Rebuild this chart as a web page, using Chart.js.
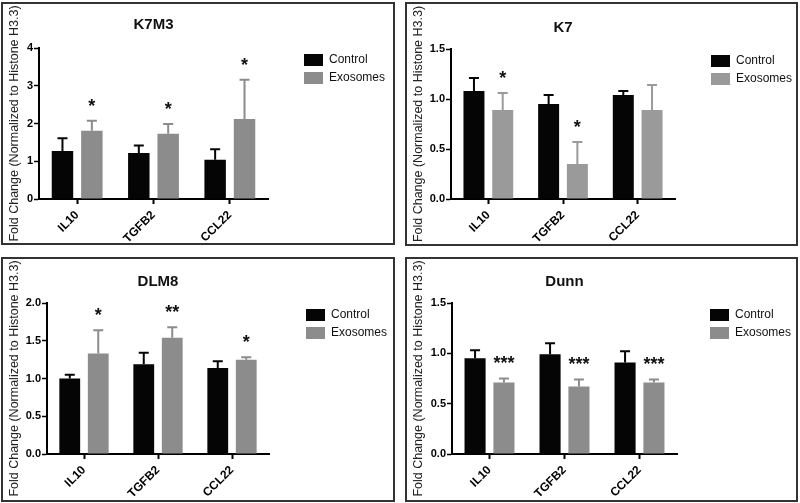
<!DOCTYPE html>
<html>
<head>
<meta charset="utf-8">
<script src="https://cdn.jsdelivr.net/npm/chart.js@4"></script>
<style>
  body { margin: 0; background: #fff; width: 800px; height: 503px; position: relative; overflow: hidden; }
  .panel { position: absolute; box-sizing: border-box; border: 2px solid #333; background: #fff; }
  .panel canvas { position: absolute; left: 0; top: 0; }
</style>
</head>
<body>
<div class="panel" id="p1"><canvas id="k7m3_chart"></canvas></div>
<div class="panel" id="p2"><canvas id="k7_chart"></canvas></div>
<div class="panel" id="p3"><canvas id="dlm8_chart"></canvas></div>
<div class="panel" id="p4"><canvas id="dunn_chart"></canvas></div>
<script>
var categories = ["IL10", "TGFB2", "CCL22"];
var seriesNames = ["Control", "Exosomes"];
var yTitle = "Fold Change (Normalized to Histone H3.3)";

// K7M3
var k7m3Control = [1.27, 1.22, 1.04];
var k7m3ControlErr = [0.34, 0.20, 0.28];
var k7m3Exo = [1.81, 1.73, 2.12];
var k7m3ExoErr = [0.26, 0.26, 1.04];
var k7m3Stars = ["*", "*", "*"];
var k7m3Ticks = ["0", "1", "2", "3", "4"];

// K7
var k7Control = [1.08, 0.95, 1.04];
var k7ControlErr = [0.13, 0.09, 0.04];
var k7Exo = [0.89, 0.35, 0.89];
var k7ExoErr = [0.17, 0.22, 0.25];
var k7Stars = ["*", "*", ""];
var k7Ticks = ["0.0", "0.5", "1.0", "1.5"];

// DLM8
var dlm8Control = [1.00, 1.19, 1.14];
var dlm8ControlErr = [0.05, 0.15, 0.09];
var dlm8Exo = [1.33, 1.54, 1.25];
var dlm8ExoErr = [0.31, 0.14, 0.03];
var dlm8Stars = ["*", "**", "*"];
var dlm8Ticks = ["0.0", "0.5", "1.0", "1.5", "2.0"];

// Dunn
var dunnControl = [0.95, 0.99, 0.91];
var dunnControlErr = [0.08, 0.11, 0.11];
var dunnExo = [0.71, 0.67, 0.71];
var dunnExoErr = [0.04, 0.07, 0.03];
var dunnStars = ["***", "***", "***"];
var dunnTicks = ["0.0", "0.5", "1.0", "1.5"];

Chart.defaults.font.family = "'Liberation Sans', Arial, sans-serif";
Chart.defaults.color = "#111";

var errorBars = {
    id: 'errorBars',
    afterDatasetsDraw: function (chart) {
        var ctx = chart.ctx;
        var y = chart.scales.y;
        chart.data.datasets.forEach(function (ds, di) {
            var meta = chart.getDatasetMeta(di);
            meta.data.forEach(function (bar, i) {
                var top = y.getPixelForValue(ds.data[i] + ds.errors[i]);
                ctx.save();
                ctx.strokeStyle = ds.backgroundColor;
                ctx.lineWidth = 2;
                ctx.beginPath();
                ctx.moveTo(bar.x, bar.y);
                ctx.lineTo(bar.x, top);
                ctx.moveTo(bar.x - 5, top);
                ctx.lineTo(bar.x + 5, top);
                ctx.stroke();
                if (ds.stars && ds.stars[i]) {
                    ctx.fillStyle = '#111';
                    ctx.font = "bold 18px 'Liberation Sans', Arial, sans-serif";
                    ctx.textAlign = 'center';
                    ctx.textBaseline = 'middle';
                    ctx.fillText(ds.stars[i], bar.x, top - 14);
                }
                ctx.restore();
            });
        });
    }
};

function makePanel(divId, canvasId, box, title, control, controlErr, exo, exoErr, stars, ticks, step, exoColor) {
    var div = document.getElementById(divId);
    div.style.left = box.left + 'px';
    div.style.top = box.top + 'px';
    div.style.width = box.w + 'px';
    div.style.height = box.h + 'px';
    var canvas = document.getElementById(canvasId);
    canvas.width = box.w - 4;
    canvas.height = box.h - 4;
    var lh = 15 * 1.2;

    new Chart(canvas.getContext("2d"), {
        type: 'bar',
        data: {
            labels: categories,
            datasets: [{
                label: seriesNames[0],
                data: control,
                errors: controlErr,
                backgroundColor: '#050505',
                categoryPercentage: 0.77,
                barPercentage: 0.73
            }, {
                label: seriesNames[1],
                data: exo,
                errors: exoErr,
                stars: stars,
                backgroundColor: exoColor,
                categoryPercentage: 0.77,
                barPercentage: 0.73
            }]
        },
        options: {
            responsive: false,
            animation: false,
            layout: { padding: 0 },
            plugins: {
                title: {
                    display: true,
                    text: title,
                    fullSize: false,
                    font: { size: 15, weight: 'bold' },
                    color: '#111',
                    padding: { top: box.titleY - lh / 2, bottom: box.chartTop - box.titleY - lh / 2 }
                },
                legend: {
                    position: 'right',
                    align: 'start',
                    fullSize: false,
                    maxWidth: box.legendW,
                    labels: {
                        boxWidth: 19,
                        boxHeight: 12,
                        padding: 6,
                        color: '#111',
                        font: { size: 12 }
                    }
                },
                tooltip: { enabled: false }
            },
            scales: {
                x: {
                    grid: { display: true, drawOnChartArea: false, offset: false, tickLength: 5, tickColor: '#000', tickWidth: 2 },
                    border: { display: true, color: '#000', width: 2 },
                    ticks: { minRotation: 45, maxRotation: 45, padding: 4, color: '#000', font: { size: 12, weight: 'bold' } },
                    afterFit: function (s) { s.height = box.xh; }
                },
                y: {
                    min: 0,
                    max: step * (ticks.length - 1),
                    grid: { display: true, drawOnChartArea: false, tickLength: 5, tickColor: '#000', tickWidth: 1.5 },
                    border: { display: true, color: '#000', width: 2 },
                    ticks: {
                        stepSize: step,
                        padding: 1,
                        color: '#000',
                        font: { size: 11, weight: 'bold' },
                        callback: function (v, i) { return ticks[i]; }
                    },
                    title: {
                        display: true,
                        text: yTitle,
                        color: '#222',
                        font: { size: 12.5 },
                        padding: { top: 4, bottom: 0 }
                    },
                    afterFit: function (s) { s.width = box.yw; }
                },
                gap: {
                    type: 'linear',
                    position: 'right',
                    display: true,
                    grid: { display: false },
                    border: { display: false },
                    ticks: { display: false },
                    afterFit: function (s) { s.width = box.gap; }
                }
            }
        },
        plugins: [errorBars]
    });
}

makePanel('p1', 'k7m3_chart', { left: 1, top: 2, w: 394, h: 243, yw: 36, chartTop: 44, xh: 44, gap: 30, legendW: 95, titleY: 21 },
    "K7M3", k7m3Control, k7m3ControlErr, k7m3Exo, k7m3ExoErr, k7m3Stars, k7m3Ticks, 1, '#8c8c8c');
makePanel('p2', 'k7_chart', { left: 405, top: 2, w: 393, h: 244, yw: 44, chartTop: 45, xh: 45, gap: 30, legendW: 91, titleY: 24 },
    "K7", k7Control, k7ControlErr, k7Exo, k7ExoErr, k7Stars, k7Ticks, 0.5, '#9a9a9a');
makePanel('p3', 'dlm8_chart', { left: 1, top: 257, w: 394, h: 245, yw: 44, chartTop: 44, xh: 46, gap: 31, legendW: 93, titleY: 23 },
    "DLM8", dlm8Control, dlm8ControlErr, dlm8Exo, dlm8ExoErr, dlm8Stars, dlm8Ticks, 0.5, '#8c8c8c');
makePanel('p4', 'dunn_chart', { left: 405, top: 257, w: 393, h: 245, yw: 45, chartTop: 44, xh: 46, gap: 27, legendW: 92, titleY: 23 },
    "Dunn", dunnControl, dunnControlErr, dunnExo, dunnExoErr, dunnStars, dunnTicks, 0.5, '#8c8c8c');
</script>
</body>
</html>
